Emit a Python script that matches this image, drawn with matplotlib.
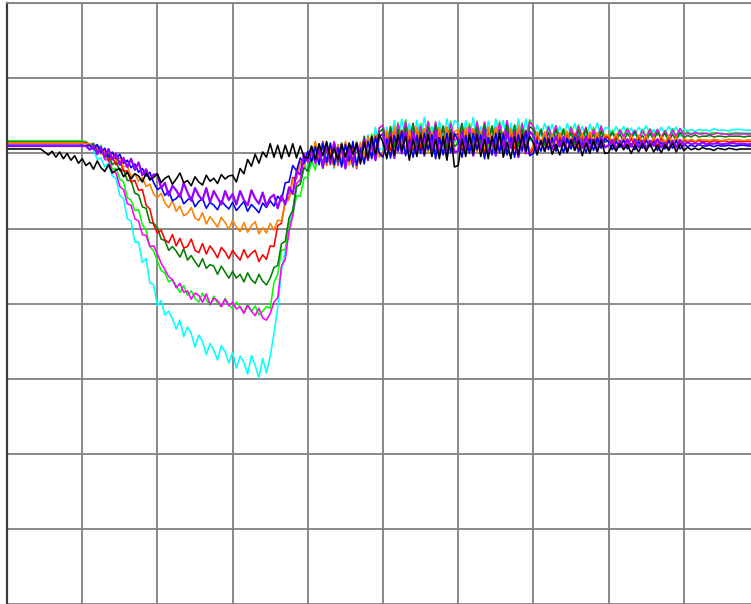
import numpy as np
import matplotlib
matplotlib.use("Agg")
import matplotlib.pyplot as plt

# Nine response traces, one sample every half division along the time axis
cyan = [
    1.7, 1.7, 1.7, 1.7, 1.7, 1.7, 1.7, 1.7, 1.7, 1.7, 1.7, 1.7, 1.7, 1.7, 1.7, 1.7, 1.7, 1.7, 1.7, 1.7,
    1.5, 1.3, 0.6, 0.5, -0.8, -0.6, -1.8, -1.3, -3.0, -3.3, -5.6, -6.0, -8.7, -9.0, -11.8, -11.8, -14.5, -14.0, -17.2, -17.5,
    -20.3, -19.6, -21.5, -21.0, -22.0, -23.4, -22.2, -24.4, -23.1, -24.0, -25.8, -24.2, -25.0, -26.8, -25.3, -26.2, -27.5, -25.6, -26.4, -27.9,
    -26.5, -28.6, -27.0, -27.8, -29.4, -26.9, -28.2, -29.9, -27.3, -29.2, -27.0, -24.0, -20.5, -15.5, -13.0, -9.0, -7.5, -4.5, -4.0, -2.0,
    -1.5, -1.6, 1.3, -1.2, 1.4, -0.8, 1.2, -2.0, 0.8, -1.5, 1.4, -1.2, 1.4, -1.5, 1.4, -0.8, 2.5, 0.6, 3.5, 0.6,
    0.6, 3.5, 1.4, 4.4, 2.0, 4.6, 1.7, 4.0, 1.4, 4.4, 2.2, 4.8, 1.6, 3.6, 1.4, 4.3, 1.9, 4.6, 2.4, 4.4,
    4.0, 1.4, 4.4, 2.2, 4.8, 1.6, 3.6, 1.4, 4.3, 1.9, 4.6, 2.4, 4.4, 1.2, 4.0, 1.7, 4.6, 2.0, 4.6, 1.7,
    2.0, 3.8, 2.3, 4.0, 2.6, 3.9, 1.9, 3.6, 2.2, 4.0, 2.4, 4.0, 2.2, 3.6, 2.0, 3.9, 2.5, 4.1, 2.1, 3.4,
    3.4, 2.5, 3.6, 2.6, 3.6, 2.5, 3.4, 2.4, 3.5, 2.7, 3.7, 2.5, 3.2, 2.4, 3.5, 2.6, 3.6, 2.8, 3.5, 2.3,
    3.3, 3.0, 3.2, 2.9, 3.2, 3.1, 3.1, 3.0, 3.3, 3.1, 3.1, 3.1, 3.0, 3.2, 3.2, 3.2, 3.1, 3.1, 3.1,
]

lime = [
    1.7, 1.7, 1.7, 1.7, 1.7, 1.7, 1.7, 1.7, 1.7, 1.7, 1.7, 1.7, 1.7, 1.7, 1.7, 1.7, 1.7, 1.7, 1.7, 1.7,
    1.7, 1.6, 1.2, 1.4, 0.6, 1.1, -0.6, -0.5, -2.1, -2.0, -3.4, -3.8, -5.9, -6.2, -7.6, -7.5, -9.5, -10.2, -12.4, -13.0,
    -14.3, -15.6, -15.9, -17.1, -16.8, -17.6, -18.5, -17.6, -18.9, -18.3, -19.3, -19.8, -18.6, -19.5, -20.2, -19.0, -19.9, -20.4, -19.3, -20.1,
    -20.7, -19.8, -20.4, -21.2, -20.0, -21.0, -20.3, -21.5, -21.0, -20.4, -20.6, -17.2, -16.1, -12.9, -12.8, -9.6, -8.3, -5.6, -5.7, -3.3,
    -3.1, -0.9, -2.2, 0.8, -1.5, 1.4, -1.2, 1.4, -1.5, 0.8, -1.8, 1.2, -1.0, 1.6, -1.0, 1.3, -0.6, 2.6, 0.4, 3.4,
    3.7, 1.0, 3.4, 1.0, 4.1, 1.9, 4.5, 1.3, 3.3, 1.1, 4.0, 1.6, 4.3, 2.1, 4.1, 0.9, 3.7, 1.4, 4.3, 1.7,
    1.3, 3.3, 1.1, 4.0, 1.6, 4.3, 2.1, 4.1, 0.9, 3.7, 1.4, 4.3, 1.7, 4.3, 1.4, 3.7, 1.1, 4.1, 1.9, 4.5,
    3.6, 1.6, 3.3, 1.9, 3.7, 2.1, 3.7, 1.9, 3.3, 1.7, 3.6, 2.2, 3.8, 1.8, 3.1, 1.7, 3.5, 2.0, 3.7, 2.3,
    2.2, 3.1, 2.1, 3.2, 2.4, 3.4, 2.2, 2.9, 2.1, 3.2, 2.3, 3.3, 2.5, 3.2, 2.0, 3.1, 2.2, 3.3, 2.3, 3.3,
    2.6, 2.9, 2.6, 2.8, 2.7, 2.8, 2.6, 2.7, 2.8, 2.7, 2.7, 2.6, 2.7, 2.7, 2.8, 2.7, 2.7, 2.7, 2.7,
]

magenta = [
    1.5, 1.5, 1.5, 1.5, 1.5, 1.5, 1.5, 1.5, 1.5, 1.5, 1.5, 1.5, 1.5, 1.5, 1.5, 1.5, 1.5, 1.5, 1.5, 1.5,
    1.5, 1.5, 1.1, 1.3, 0.5, 0.9, -0.8, -0.9, -2.4, -2.6, -4.4, -4.8, -6.7, -6.9, -8.7, -9.0, -10.8, -10.9, -12.4, -12.3,
    -13.4, -14.6, -15.5, -16.4, -16.8, -17.9, -17.3, -18.5, -18.3, -19.4, -18.6, -18.9, -19.8, -18.7, -20.1, -19.3, -19.6, -20.4, -19.4, -20.3,
    -19.8, -20.7, -20.4, -21.3, -20.2, -21.0, -21.6, -20.6, -21.9, -22.2, -21.3, -19.8, -19.2, -15.0, -14.1, -10.4, -8.3, -4.0, -3.5, -0.7,
    -1.1, 0.6, -1.4, 0.8, -1.8, 1.2, -1.0, 1.6, -1.6, 0.4, -1.8, 1.1, -1.3, 1.4, -0.2, 2.0, -0.9, 2.2, 0.2, 3.4,
    3.8, 0.8, 2.9, 0.9, 3.9, 1.5, 4.2, 2.0, 4.0, 0.8, 3.6, 1.3, 4.2, 1.6, 4.2, 1.3, 3.6, 1.0, 4.0, 1.8,
    2.0, 4.0, 0.8, 3.6, 1.3, 4.2, 1.6, 4.2, 1.3, 3.6, 1.0, 4.0, 1.8, 4.4, 1.2, 3.2, 1.0, 3.9, 1.5, 4.2,
    3.6, 1.8, 3.2, 1.6, 3.5, 2.1, 3.7, 1.7, 3.0, 1.6, 3.4, 1.9, 3.6, 2.2, 3.5, 1.5, 3.2, 1.8, 3.6, 2.0,
    2.1, 2.8, 2.0, 3.1, 2.2, 3.2, 2.4, 3.1, 1.9, 3.0, 2.1, 3.2, 2.2, 3.2, 2.1, 3.0, 2.0, 3.1, 2.3, 3.3,
    2.5, 2.7, 2.5, 2.8, 2.6, 2.6, 2.7, 2.5, 2.6, 2.7, 2.6, 2.6, 2.5, 2.6, 2.6, 2.6, 2.6, 2.6, 2.6,
]

dark_green = [
    1.5, 1.5, 1.5, 1.5, 1.5, 1.5, 1.5, 1.5, 1.5, 1.5, 1.5, 1.5, 1.5, 1.5, 1.5, 1.5, 1.5, 1.5, 1.5, 1.5,
    1.5, 1.4, 1.1, 1.2, 0.2, 0.7, -0.5, -0.1, -1.5, -1.1, -2.3, -2.1, -3.6, -3.6, -5.3, -5.5, -7.1, -7.3, -9.2, -9.3,
    -9.9, -11.4, -11.6, -12.9, -12.4, -13.0, -13.8, -12.7, -14.2, -13.6, -14.4, -15.1, -14.0, -15.3, -14.8, -15.0, -16.1, -15.0, -15.8, -16.6,
    -15.7, -16.6, -16.1, -17.1, -15.9, -16.8, -17.3, -16.1, -17.0, -17.5, -16.6, -15.2, -14.9, -12.0, -11.7, -8.6, -7.6, -4.4, -4.1, -1.8,
    -2.4, -0.1, -0.8, 1.2, -2.0, 0.8, -1.5, 1.4, -1.2, 1.4, -1.5, 0.8, -1.8, 1.2, -0.5, 2.3, -0.6, 1.6, -0.4, 2.8,
    3.3, 0.8, 3.6, 0.8, 3.2, 0.6, 3.6, 1.4, 4.0, 0.8, 2.8, 0.6, 3.5, 1.1, 3.8, 1.6, 3.6, 0.4, 3.2, 0.9,
    1.4, 4.0, 0.8, 2.8, 0.6, 3.5, 1.1, 3.8, 1.6, 3.6, 0.4, 3.2, 0.9, 3.8, 1.2, 3.8, 0.9, 3.2, 0.6, 3.6,
    3.2, 1.8, 3.1, 1.1, 2.8, 1.4, 3.2, 1.6, 3.2, 1.4, 2.8, 1.2, 3.1, 1.7, 3.3, 1.3, 2.6, 1.2, 3.0, 1.5,
    1.8, 2.8, 1.7, 2.6, 1.6, 2.7, 1.9, 2.9, 1.7, 2.4, 1.6, 2.7, 1.8, 2.8, 2.0, 2.7, 1.5, 2.6, 1.7, 2.8,
    2.1, 2.4, 2.2, 2.5, 2.2, 2.3, 2.3, 2.4, 2.2, 2.3, 2.3, 2.2, 2.3, 2.3, 2.3, 2.3, 2.2, 2.3, 2.3,
]

red = [
    1.4, 1.4, 1.4, 1.4, 1.4, 1.4, 1.4, 1.4, 1.4, 1.4, 1.4, 1.4, 1.4, 1.4, 1.4, 1.4, 1.4, 1.4, 1.4, 1.4,
    1.4, 1.3, 1.3, 0.7, 1.0, 0.0, 0.4, -0.9, -0.5, -1.5, -1.0, -2.4, -2.3, -3.8, -3.6, -4.9, -4.8, -6.9, -7.4, -9.5,
    -10.6, -10.2, -11.5, -11.9, -10.8, -12.3, -11.3, -12.6, -12.4, -11.4, -12.9, -13.2, -12.0, -13.4, -12.3, -13.0, -13.9, -12.5, -13.1, -14.0,
    -12.9, -13.6, -14.2, -12.8, -13.9, -13.3, -12.9, -14.4, -13.5, -14.1, -12.3, -12.4, -9.6, -9.3, -6.3, -5.9, -3.2, -3.3, -1.1, -1.7,
    0.2, -0.8, 1.4, -1.0, 1.6, -1.6, 0.4, -1.8, 1.1, -1.3, 1.4, -0.8, 1.2, -2.0, 1.2, -0.9, 2.2, -0.3, 2.5, -0.2,
    -0.3, 2.7, 0.4, 3.2, 1.1, 3.1, -0.1, 2.7, 0.4, 3.3, 0.7, 3.3, 0.4, 2.7, 0.1, 3.1, 0.9, 3.5, 0.3, 2.3,
    2.7, 0.4, 3.3, 0.7, 3.3, 0.4, 2.7, 0.1, 3.1, 0.9, 3.5, 0.3, 2.3, 0.1, 3.0, 0.6, 3.3, 1.1, 3.1, -0.1,
    0.7, 2.6, 1.2, 2.8, 0.8, 2.1, 0.7, 2.5, 1.0, 2.7, 1.3, 2.6, 0.6, 2.3, 0.9, 2.7, 1.1, 2.7, 0.9, 2.3,
    2.1, 1.2, 2.2, 1.4, 2.1, 0.9, 2.0, 1.1, 2.2, 1.2, 2.2, 1.1, 2.0, 1.0, 2.0, 1.1, 2.1, 1.3, 2.3, 1.1,
    1.8, 1.5, 1.7, 1.5, 1.7, 1.6, 1.6, 1.5, 1.7, 1.6, 1.6, 1.7, 1.5, 1.6, 1.6, 1.6, 1.6, 1.6, 1.6,
]

orange = [
    1.4, 1.4, 1.4, 1.4, 1.4, 1.4, 1.4, 1.4, 1.4, 1.4, 1.4, 1.4, 1.4, 1.4, 1.4, 1.4, 1.4, 1.4, 1.4, 1.4,
    1.4, 1.3, 1.3, 0.7, 1.0, -0.1, 0.5, -0.5, 0.1, -1.0, -0.5, -1.8, -1.6, -3.1, -2.7, -3.7, -3.2, -4.4, -4.1, -5.4,
    -5.9, -5.3, -6.6, -7.2, -6.3, -7.7, -7.0, -8.3, -8.0, -7.2, -8.6, -8.9, -7.9, -9.4, -8.4, -9.1, -9.8, -8.5, -9.2, -10.1,
    -8.9, -9.8, -10.4, -9.2, -10.5, -9.6, -9.1, -10.7, -9.9, -10.6, -9.3, -10.2, -8.9, -9.0, -6.4, -6.2, -3.5, -3.4, -1.2, -1.8,
    0.0, -0.9, 1.6, -1.2, 1.4, -1.5, 0.8, -1.8, 1.2, -1.0, 1.6, -1.6, 0.4, -1.8, 1.5, -0.7, 2.2, 0.3, 2.5, -0.5,
    -0.1, 3.0, 0.9, 3.6, 0.5, 2.5, 0.3, 3.2, 0.8, 3.5, 1.3, 3.3, 0.1, 2.9, 0.6, 3.5, 0.9, 3.5, 0.6, 2.9,
    3.2, 0.8, 3.5, 1.3, 3.3, 0.1, 2.9, 0.6, 3.5, 0.9, 3.5, 0.6, 2.9, 0.3, 3.3, 1.1, 3.7, 0.5, 2.5, 0.3,
    1.1, 2.9, 1.3, 2.9, 1.1, 2.5, 0.9, 2.8, 1.4, 3.0, 1.0, 2.3, 0.9, 2.7, 1.2, 2.9, 1.5, 2.8, 0.8, 2.5,
    2.4, 1.6, 2.6, 1.4, 2.1, 1.3, 2.4, 1.5, 2.4, 1.6, 2.3, 1.1, 2.2, 1.3, 2.4, 1.4, 2.4, 1.3, 2.2, 1.2,
    2.0, 1.7, 1.9, 1.6, 1.9, 1.8, 1.8, 1.7, 1.9, 1.8, 1.7, 1.8, 1.9, 1.8, 1.8, 1.8, 1.7, 1.8, 1.8,
]

blue = [
    1.1, 1.1, 1.1, 1.1, 1.1, 1.1, 1.1, 1.1, 1.1, 1.1, 1.1, 1.1, 1.1, 1.1, 1.1, 1.1, 1.1, 1.1, 1.1, 1.1,
    1.1, 1.0, 1.1, 0.6, 1.2, 0.1, 0.7, -0.5, 0.2, -0.7, -0.1, -1.3, -0.9, -1.9, -1.4, -2.5, -2.0, -3.0, -2.5, -3.9,
    -4.8, -4.5, -5.6, -5.0, -6.3, -6.0, -5.4, -6.7, -6.2, -5.8, -7.1, -6.4, -6.0, -7.3, -6.5, -6.9, -7.5, -6.3, -6.9, -7.4,
    -6.5, -7.6, -7.0, -6.4, -7.7, -6.8, -7.3, -7.9, -6.6, -7.2, -6.3, -7.0, -5.7, -6.3, -3.9, -3.8, -1.6, -2.3, -0.6, -1.3,
    0.3, -1.1, 0.9, -1.5, 1.4, -1.2, 1.4, -1.5, 0.8, -1.8, 1.2, -1.0, 1.6, -1.6, 0.7, -1.4, 1.6, -0.7, 2.2, 0.1,
    -0.5, 1.9, -0.6, 2.4, 0.3, 2.9, -0.3, 1.7, -0.5, 2.4, 0.0, 2.7, 0.5, 2.5, -0.7, 2.1, -0.2, 2.7, 0.1, 2.7,
    1.7, -0.5, 2.4, 0.0, 2.7, 0.5, 2.5, -0.7, 2.1, -0.2, 2.7, 0.1, 2.7, -0.2, 2.1, -0.5, 2.5, 0.3, 2.9, -0.3,
    0.0, 1.7, 0.3, 2.1, 0.5, 2.1, 0.3, 1.7, 0.1, 2.0, 0.6, 2.2, 0.2, 1.5, 0.1, 1.9, 0.4, 2.1, 0.7, 2.0,
    1.5, 0.5, 1.6, 0.8, 1.8, 0.6, 1.3, 0.5, 1.6, 0.7, 1.7, 0.9, 1.6, 0.4, 1.5, 0.6, 1.7, 0.7, 1.7, 0.6,
    1.2, 0.9, 1.1, 0.9, 1.2, 1.0, 1.0, 1.1, 0.9, 1.1, 1.0, 1.0, 1.1, 1.0, 1.0, 1.1, 1.1, 1.0, 1.0,
]

violet = [
    1.0, 1.0, 1.0, 1.0, 1.0, 1.0, 1.0, 1.0, 1.0, 1.0, 1.0, 1.0, 1.0, 1.0, 1.0, 1.0, 1.0, 1.0, 1.0, 1.0,
    1.0, 1.0, 0.5, 1.0, -0.1, 0.8, -0.5, 0.6, -0.8, 0.0, -1.5, -0.6, -1.8, -0.7, -2.2, -1.2, -2.9, -2.1, -3.5, -2.8,
    -2.8, -4.6, -3.9, -5.6, -4.3, -4.9, -5.8, -3.9, -5.2, -6.3, -4.6, -5.6, -6.2, -4.6, -6.5, -5.0, -5.9, -6.8, -5.0, -6.2,
    -5.4, -6.8, -5.0, -6.2, -6.9, -4.9, -6.0, -6.7, -5.2, -7.0, -5.9, -5.5, -7.3, -5.6, -6.8, -4.5, -5.4, -2.4, -2.8, -0.1,
    -1.0, 0.8, -1.1, 0.6, -1.8, 1.1, -1.3, 1.4, -0.8, 1.2, -2.0, 0.8, -1.5, 1.4, -0.9, 1.9, -0.9, 1.6, -0.9, 2.3,
    2.6, 0.5, 2.6, -0.6, 2.3, 0.0, 2.9, 0.3, 2.9, 0.0, 2.3, -0.3, 2.7, 0.5, 3.1, -0.1, 1.9, -0.3, 2.6, 0.2,
    0.3, 2.9, 0.0, 2.3, -0.3, 2.7, 0.5, 3.1, -0.1, 1.9, -0.3, 2.6, 0.2, 2.9, 0.7, 2.7, -0.5, 2.3, 0.0, 2.9,
    2.4, 0.4, 1.7, 0.3, 2.1, 0.6, 2.3, 0.9, 2.2, 0.2, 1.9, 0.5, 2.3, 0.7, 2.3, 0.5, 1.9, 0.3, 2.2, 0.8,
    1.1, 1.8, 0.6, 1.7, 0.8, 1.9, 0.9, 1.9, 0.8, 1.7, 0.7, 1.7, 1.0, 1.9, 0.8, 1.4, 0.6, 1.7, 0.8, 1.8,
    1.1, 1.5, 1.2, 1.4, 1.2, 1.5, 1.2, 1.3, 1.3, 1.4, 1.2, 1.3, 1.3, 1.4, 1.3, 1.3, 1.3, 1.2, 1.3,
]

black = [
    0.6, 0.6, 0.6, 0.6, 0.6, 0.6, 0.6, 0.6, 0.6, 0.6, 0.2, -0.2, 0.3, -0.5, 0.2, -0.7, 0.0, -0.9, -0.3, -1.3,
    -0.7, -1.6, -1.2, -2.1, -1.0, -1.9, -2.4, -1.5, -2.6, -2.2, -2.0, -3.1, -2.5, -3.4, -2.7, -3.0, -3.8, -2.6, -3.5, -3.2,
    -2.7, -3.9, -3.3, -3.0, -4.1, -3.4, -2.6, -3.9, -3.6, -4.3, -3.1, -3.8, -4.2, -2.9, -3.7, -3.3, -4.0, -2.8, -3.4, -3.0,
    -2.9, -3.8, -2.0, -2.7, -0.8, -1.7, -0.1, -1.3, 0.2, -0.5, 1.3, -0.5, 1.1, -0.7, 1.1, -0.4, 1.3, -0.6, 1.0, -0.5,
    -0.6, 1.0, -0.8, 1.3, -0.3, 1.6, -0.7, 0.7, -0.8, 1.2, -0.5, 1.4, -0.1, 1.3, -1.4, 1.5, -0.7, 2.3, -0.2, 2.5,
    1.5, -0.7, 2.2, -0.2, 2.5, 0.3, 2.3, -0.9, 1.9, -0.4, 2.5, -0.1, 2.5, -0.4, 1.9, -0.7, 2.3, -0.9, 2.7, -1.8,
    -1.6, 1.9, -0.4, 2.5, -0.1, 2.5, -0.4, 1.9, -0.7, 2.3, 0.1, 2.7, -0.5, 1.5, -0.7, 2.2, -0.2, 2.5, 0.3, 2.3,
    1.4, -0.2, 1.7, 0.3, 1.9, -0.1, 1.2, -0.2, 1.6, 0.1, 1.8, 0.4, 1.7, -0.3, 1.4, 0.0, 1.8, 0.2, 1.8, 0.0,
    0.1, 1.2, 0.3, 1.3, 0.5, 1.2, 0.0, 1.1, 0.2, 1.3, 0.3, 1.3, 0.2, 1.1, 0.1, 1.2, 0.4, 1.4, 0.2, 1.3,
    0.4, 0.8, 0.5, 0.7, 0.5, 0.8, 0.6, 0.6, 0.4, 0.7, 0.6, 0.5, 0.7, 0.6, 0.5, 0.6, 0.6, 0.6, 0.6,
]

t = np.arange(len(cyan)) * 0.5

# (values, colour, line width)
traces = [
    (cyan, "#00ffff", 1.15),
    (lime, "#00ff00", 1.15),
    (magenta, "#ff00ff", 1.15),
    (dark_green, "#007f00", 1.15),
    (red, "#ff0000", 1.15),
    (orange, "#ff8000", 1.15),
    (blue, "#0000ff", 1.15),
    (violet, "#9900ff", 1.6),
    (black, "#000000", 1.15),
]
for vals, _, _ in traces:
    assert len(vals) == len(t), len(vals)

W, H = 751, 604
fig = plt.figure(figsize=(W / 100, H / 100), dpi=100)
left_px, top_px, zero_px, unit_px = 7.0, 3.3, 153.7, 7.52
ax = fig.add_axes([left_px / W, 0.0, 1 - left_px / W, 1 - top_px / H])
ax.set_xlim(0, (W - left_px) / unit_px)
ax.set_ylim(-(H - zero_px) / unit_px, (zero_px - top_px) / unit_px)

ax.set_xticks(np.arange(0, 100, 10))
ax.set_yticks(np.arange(-60, 21, 10))
ax.grid(True, color="#808080", linewidth=1.3)
ax.set_axisbelow(True)
ax.tick_params(length=0, labelleft=False, labelbottom=False)
for side in ("right", "bottom"):
    ax.spines[side].set_visible(False)
ax.spines["top"].set_color("#808080")
ax.spines["top"].set_linewidth(1.3)
ax.spines["left"].set_color("#3c3c3c")
ax.spines["left"].set_linewidth(1.6)

for vals, col, lw in traces:
    ax.plot(t, vals, color=col, linewidth=lw)

fig.savefig("out.png", dpi=100, facecolor="white")
